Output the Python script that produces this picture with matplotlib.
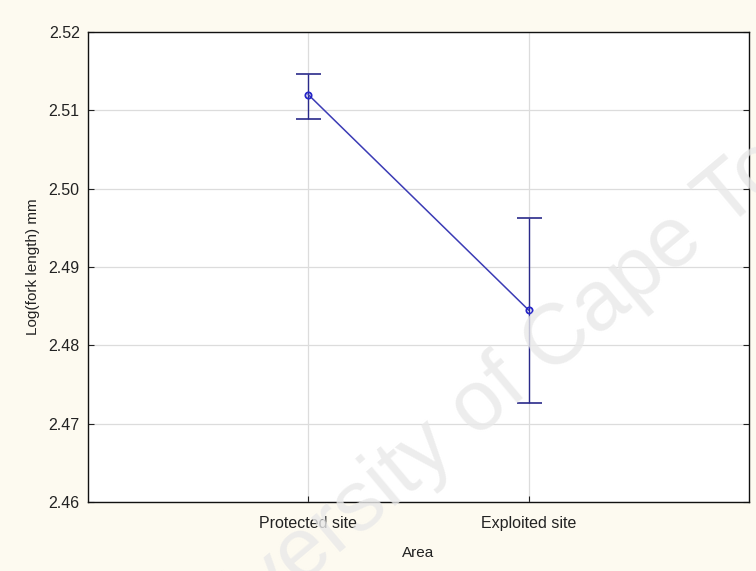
import numpy as np
import matplotlib.pyplot as plt

# values
areas = ['Protected site', 'Exploited site']
means = [2.5120, 2.4845]
upper = [2.5146, 2.4962]
lower = [2.5089, 2.4726]
yticks = [2.46, 2.47, 2.48, 2.49, 2.50, 2.51, 2.52]

plt.rcParams['font.family'] = ['Liberation Sans', 'DejaVu Sans']

fig = plt.figure(figsize=(7.56, 5.71), dpi=100, facecolor='#fdfaf0')
ax = fig.add_axes([0.1164, 0.1208, 0.8743, 0.8232])
ax.set_facecolor('white')

x = np.arange(1, len(areas) + 1)
m = np.array(means)
err = [m - np.array(lower), np.array(upper) - m]

ax.errorbar(x, m, yerr=err, fmt='none', ecolor='#2a2a8a', elinewidth=1.0,
            capsize=9, capthick=1.2, zorder=3)
ax.plot(x, m, color='#3b3bb5', lw=1.1, marker='o', ms=4.5, mfc='none',
        mec='#2525c8', mew=1.3, zorder=4)

ax.set_xlim(0, 3)
ax.set_ylim(2.46, 2.52)
ax.set_xticks(x)
ax.set_xticklabels(areas)
ax.set_yticks(yticks)
ax.set_yticklabels(['%.2f' % v for v in yticks])
ax.grid(True, color='#dcdcdc', lw=0.9)
ax.set_axisbelow(True)
ax.tick_params(direction='in', length=4, labelsize=11.5, colors='#222222',
               right=True)
ax.tick_params(axis='y', pad=6)
ax.tick_params(axis='x', pad=10)
for s in ax.spines.values():
    s.set_color('#111111')
    s.set_linewidth(1.0)

ax.set_xlabel('Area', fontsize=11, color='#222222', labelpad=11)
ax.set_ylabel('Log(fork length) mm', fontsize=11, color='#222222', labelpad=6)

# faint watermark
fig.text(0.672, 0.33, 'University of Cape Town', fontsize=62, rotation=40,
         color='#e9e9e9', ha='center', va='center', alpha=0.8, zorder=10)

fig.savefig('out.png', dpi=100, facecolor=fig.get_facecolor())
